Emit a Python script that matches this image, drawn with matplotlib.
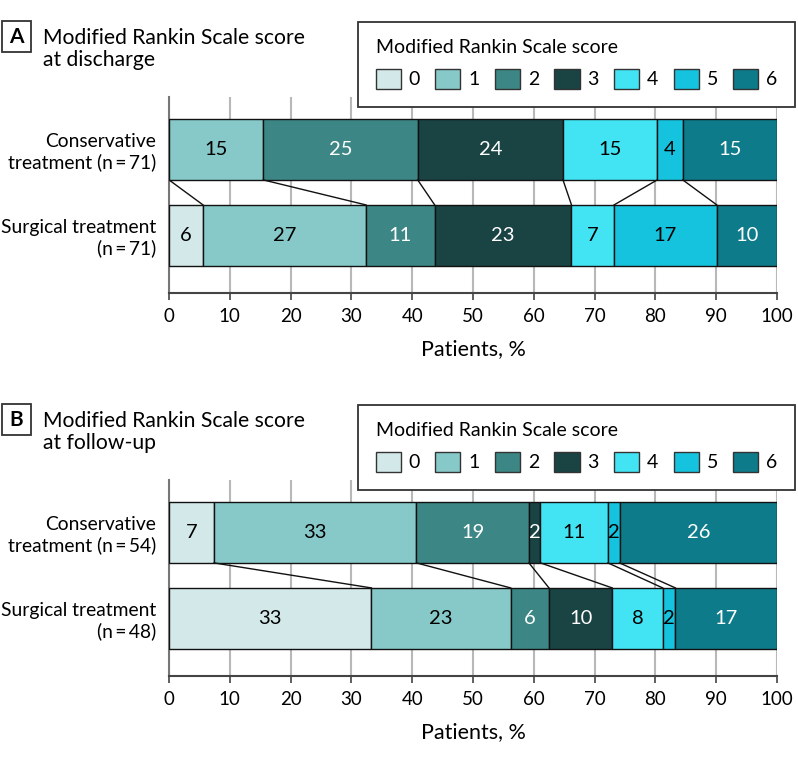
import matplotlib
matplotlib.use("Agg")
import matplotlib.pyplot as plt
from matplotlib.patches import Patch, Rectangle

# ---------------- data ----------------
categories = ["0", "1", "2", "3", "4", "5", "6"]
colors = ["#d3e8e9", "#86c9c8", "#3c8785", "#1a4344", "#42e3f3", "#16c3de", "#0e7b8b"]
text_colors = ["black", "black", "white", "white", "black", "black", "white"]

groups_a = ["Conservative\ntreatment (n\u2009=\u200971)", "Surgical treatment\n(n\u2009=\u200971)"]
pct_a_cons = [0.0, 15.5, 25.4, 23.9, 15.5, 4.2, 15.5]
pct_a_surg = [5.6, 26.8, 11.3, 22.5, 7.0, 16.9, 9.9]
lab_a_cons = ["", "15", "25", "24", "15", "4", "15"]
lab_a_surg = ["6", "27", "11", "23", "7", "17", "10"]

groups_b = ["Conservative\ntreatment (n\u2009=\u200954)", "Surgical treatment\n(n\u2009=\u200948)"]
pct_b_cons = [7.4, 33.3, 18.5, 1.9, 11.1, 1.9, 25.9]
pct_b_surg = [33.3, 22.9, 6.3, 10.4, 8.3, 2.1, 16.7]
lab_b_cons = ["7", "33", "19", "2", "11", "2", "26"]
lab_b_surg = ["33", "23", "6", "10", "8", "2", "17"]

xticks = [0, 10, 20, 30, 40, 50, 60, 70, 80, 90, 100]
xlabel = "Patients, %"
legend_title = "Modified Rankin Scale score"
title_a = "Modified Rankin Scale score\nat discharge"
title_b = "Modified Rankin Scale score\nat follow-up"

# ---------------- fonts ----------------
plt.rcParams["font.family"] = ["Lato", "DejaVu Sans"]

W, H = 798, 759
fig = plt.figure(figsize=(W / 100, H / 100), dpi=100)

BAR_H = 0.709


def fx(px):
    return px / W


def fy(py):
    return 1 - py / H


def panel(offset, letter, title, groups, pcts, labels):
    top_px, bot_px = 97 + offset, 293 + offset
    ax = fig.add_axes([fx(169), fy(bot_px), fx(777) - fx(169), (bot_px - top_px) / H])
    ax.set_xlim(0, 100)
    ax.set_ylim(1.67, -0.610)
    for yi, (vals, labs) in enumerate(zip(pcts, labels)):
        left = 0.0
        for k, (v, lab) in enumerate(zip(vals, labs)):
            if v > 0:
                ax.barh(yi, v, left=left, height=BAR_H, color=colors[k],
                        edgecolor="#111111", linewidth=1.0, zorder=3)
                if lab:
                    ax.text(left + v / 2, yi, lab, ha="center", va="center",
                            color=text_colors[k], fontsize=14.5, zorder=4)
            left += v
    # connectors between cumulative boundaries
    cum_top = [sum(pcts[0][:k]) for k in range(1, 7)]
    cum_bot = [sum(pcts[1][:k]) for k in range(1, 7)]
    for a, b in zip(cum_top, cum_bot):
        ax.plot([a, b], [BAR_H / 2, 1 - BAR_H / 2], color="#111111", lw=1.0, zorder=3)

    ax.set_xticks(xticks)
    ax.set_xticklabels([str(t) for t in xticks], fontsize=13.5)
    ax.set_yticks([0, 1])
    ax.set_yticklabels(groups, fontsize=13.9, linespacing=1.2)
    ax.tick_params(axis="y", length=0, pad=9)
    ax.tick_params(axis="x", length=5, width=1.2, color="#444444", pad=6, direction="out")
    ax.grid(axis="x", color="#b8b8b8", lw=1.5, zorder=0)
    ax.set_axisbelow(True)
    for s in ["top", "right"]:
        ax.spines[s].set_visible(False)
    ax.spines["left"].set_color("#777777")
    ax.spines["left"].set_linewidth(1.5)
    ax.spines["bottom"].set_color("#444444")
    ax.spines["bottom"].set_linewidth(1.5)
    ax.set_xlabel(xlabel, fontsize=15.5, labelpad=10)

    # legend
    handles = [Patch(facecolor=c, edgecolor="#333333", linewidth=1.0) for c in colors]
    leg = ax.legend(handles, categories, ncol=7, title=legend_title, title_fontsize=14,
                    fontsize=14, loc="upper left", mode="expand",
                    bbox_to_anchor=(fx(358), fy(103 + offset), fx(795) - fx(358), (81) / H),
                    bbox_transform=fig.transFigure, borderaxespad=0, frameon=True,
                    fancybox=False, edgecolor="#333333", framealpha=1,
                    handlelength=1.3, handleheight=1.25, handletextpad=0.4,
                    columnspacing=0.9, borderpad=0.9, labelspacing=0.62,
                    alignment="left")
    leg.get_frame().set_linewidth(1.3)
    leg.set_zorder(10)

    # panel letter box and title
    fig.add_artist(Rectangle((fx(2), fy(52 + offset)), fx(31) - fx(2), (31) / H,
                             transform=fig.transFigure, fill=False,
                             edgecolor="#333333", lw=1.3))
    fig.text(fx(16.5), fy(37 + offset), letter, ha="center", va="center",
             fontsize=15, fontweight="bold")
    fig.text(fx(43), fy(28 + offset), title, ha="left", va="top", fontsize=15.2,
             linespacing=1.15)
    return ax


panel(0, "A", title_a, groups_a, [pct_a_cons, pct_a_surg], [lab_a_cons, lab_a_surg])
panel(383, "B", title_b, groups_b, [pct_b_cons, pct_b_surg], [lab_b_cons, lab_b_surg])

fig.savefig("out.png", dpi=100)
